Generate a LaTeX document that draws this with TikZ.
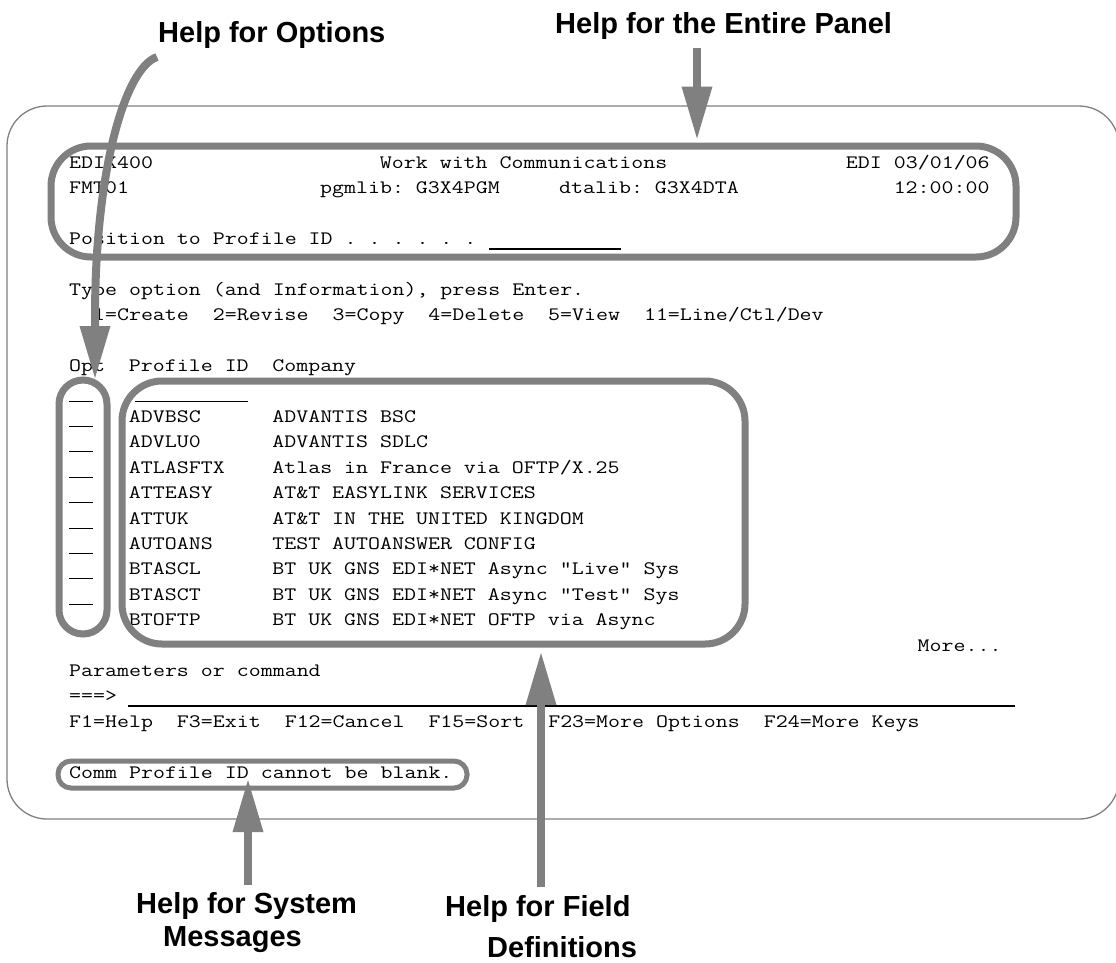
\documentclass[tikz,border=0pt]{standalone}
\usepackage{fontspec}
\setmainfont{Liberation Sans}
\setmonofont[FakeStretch=1.224]{Latin Modern Mono}
\usetikzlibrary{arrows.meta}
\definecolor{boxgray}{RGB}{128,128,128}
\newcommand\scr[4]{\node[mono,anchor=base west] (#1) at ({69+#2*11.95},{168.5+#3*25.4}) {#4};}
\newcommand\optline[1]{\draw[uline] (69,{172.5+#1*25.4}) -- (93,{172.5+#1*25.4});}
\begin{document}
\begin{tikzpicture}[x=1pt,y=-1pt,
  mono/.style={font=\fontsize{19}{22}\selectfont\ttfamily\frenchspacing, inner sep=0pt, text=black},
  ttl/.style={font=\fontsize{29}{34}\selectfont\bfseries, inner sep=0pt, text=black},
  hbox/.style={draw=boxgray, line width=7pt, inner sep=0pt},
  uline/.style={draw=black, line width=1.1pt},
  harrow/.style={draw=boxgray, line width=8pt, -{Triangle[length=52pt,width=31pt,line width=0pt]}, color=boxgray},
]
\useasboundingbox (0,0) rectangle (1116,962);
\begin{scope}
\clip (0,0) rectangle (1116,962);
% outer frame
\node[draw=boxgray, line width=1.3pt, rounded corners=40pt, inner sep=0pt,
      minimum width=1112pt, minimum height=713pt] (frame) at (563,462.5) {};

% screen text
\scr{h1}{0}{0}{EDIX400}
\scr{h2}{26}{0}{Work with Communications}
\scr{h3}{65}{0}{EDI 03/01/06}
\scr{f1}{0}{1}{FMT01}
\scr{f2}{21}{1}{pgmlib: G3X4PGM}
\scr{f3}{41}{1}{dtalib: G3X4DTA}
\scr{f4}{69}{1}{12:00:00}
\scr{pos}{0}{3}{Position to Profile ID . . . . . .}
\scr{typ}{0}{5}{Type option (and Information), press Enter.}
\scr{opts}{2}{6}{1=Create~~2=Revise~~3=Copy~~4=Delete~~5=View~~11=Line/Ctl/Dev}
\scr{c1}{0}{8}{Opt}
\scr{c2}{5}{8}{Profile ID}
\scr{c3}{17}{8}{Company}
\scr{p1}{5}{10}{ADVBSC}   \scr{n1}{17}{10}{ADVANTIS BSC}
\scr{p2}{5}{11}{ADVLU0}   \scr{n2}{17}{11}{ADVANTIS SDLC}
\scr{p3}{5}{12}{ATLASFTX} \scr{n3}{17}{12}{Atlas in France via OFTP/X.25}
\scr{p4}{5}{13}{ATTEASY}  \scr{n4}{17}{13}{AT\&T EASYLINK SERVICES}
\scr{p5}{5}{14}{ATTUK}    \scr{n5}{17}{14}{AT\&T IN THE UNITED KINGDOM}
\scr{p6}{5}{15}{AUTOANS}  \scr{n6}{17}{15}{TEST AUTOANSWER CONFIG}
\scr{p7}{5}{16}{BTASCL}   \scr{n7}{17}{16}{BT UK GNS EDI*NET Async "Live" Sys}
\scr{p8}{5}{17}{BTASCT}   \scr{n8}{17}{17}{BT UK GNS EDI*NET Async "Test" Sys}
\scr{p9}{5}{18}{BTOFTP}   \scr{n9}{17}{18}{BT UK GNS EDI*NET OFTP via Async}
\scr{more}{71}{19}{More...}
\scr{par}{0}{20}{Parameters or command}
\scr{cmd}{0}{21}{===>}
\scr{fk}{0}{22}{F1=Help~~F3=Exit~~F12=Cancel~~F15=Sort~~F23=More Options~~F24=More Keys}
\scr{msg}{0}{24}{Comm Profile ID cannot be blank.}

% input underlines
\draw[uline] (489,249) -- (621,249);
\draw[uline] (135,401.1) -- (248,401.1);
\foreach \r in {9,...,17} {\optline{\r}}
\draw[uline] (128,706) -- (1015,706);

% highlight boxes
\node[hbox, rounded corners=40pt, minimum width=965pt, minimum height=111pt] (hdr) at (533.5,201.5) {};
\node[hbox, rounded corners=40pt, minimum width=623pt, minimum height=263pt] (fld) at (433.5,512.5) {};
\node[hbox, rounded corners=24pt, minimum width=48pt, minimum height=254pt] (opt) at (83,507) {};
\node[hbox, line width=5pt, rounded corners=13pt, minimum width=409pt, minimum height=27pt] (comm) at (262.5,774.5) {};

% titles
\node[ttl, anchor=base west] (tOpt) at (158,42) {Help for Options};
\node[ttl, anchor=base west] (tPanel) at (555,33) {Help for the Entire Panel};
\node[ttl, anchor=base west] (tSys1) at (136,913) {Help for System};
\node[ttl, anchor=base west] (tSys2) at (163,946) {Messages};
\node[ttl, anchor=base west] (tFld1) at (445,916) {Help for Field};
\node[ttl, anchor=base west] (tFld2) at (487,957) {Definitions};

% arrows
\coordinate (eStart) at (697,48);
\coordinate (oStart) at (157,57);
\coordinate (oEnd) at (95,378);
\coordinate (sStart) at (248,885);
\coordinate (sEnd) at (248,780);
\coordinate (fStart) at (541,887);
\draw[harrow, shorten >=4pt] (eStart) -- (eStart |- hdr.north);
\draw[harrow] (oStart) .. controls (125,68) and (95,170) .. (95,318) -- (oEnd);
\draw[harrow] (sStart) -- (sEnd);
\draw[harrow, shorten >=5.5pt] (fStart) -- (fStart |- fld.south);
\end{scope}
\end{tikzpicture}
\end{document}
